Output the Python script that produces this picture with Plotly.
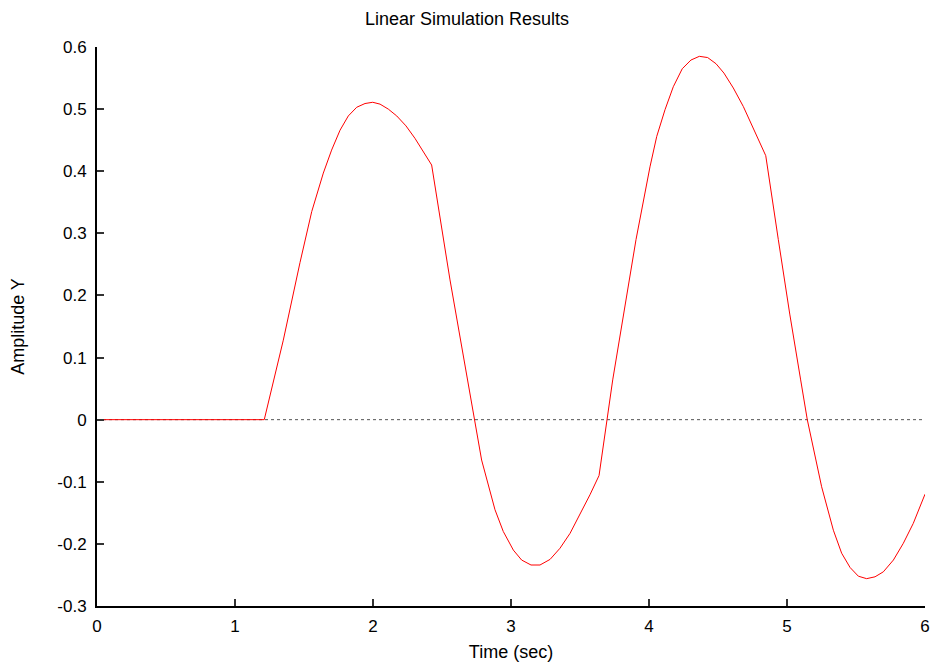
import plotly.graph_objects as go

# Data
time_sec = [0.0, 0.6, 1.212, 1.350, 1.471, 1.556, 1.640, 1.700, 1.761, 1.821, 1.882, 1.942, 1.998,
            2.051, 2.111, 2.172, 2.239, 2.304, 2.365, 2.425,
            2.558, 2.654, 2.734, 2.787, 2.884, 2.944, 3.017, 3.077, 3.145, 3.210, 3.283,
            3.355, 3.428, 3.500, 3.572, 3.638,
            3.698, 3.737, 3.906, 4.007, 4.056, 4.116, 4.176, 4.241, 4.304, 4.365, 4.425, 4.486,
            4.543, 4.611, 4.684, 4.756, 4.846, 4.937, 5.020, 5.099, 5.147, 5.251, 5.336, 5.396,
            5.457, 5.517, 5.577, 5.638, 5.698, 5.771, 5.843, 5.915, 6.0]
amplitude = [0.0, 0.0, 0.0, 0.128, 0.253, 0.335, 0.397, 0.434, 0.466, 0.489, 0.503, 0.509, 0.511,
             0.508, 0.500, 0.489, 0.473, 0.453, 0.432, 0.410,
             0.225, 0.101, 0.0, -0.065, -0.145, -0.180, -0.210, -0.226, -0.234, -0.234, -0.225,
             -0.207, -0.183, -0.153, -0.121, -0.090,
             0.0, 0.064, 0.290, 0.407, 0.456, 0.499, 0.536, 0.565, 0.579, 0.585, 0.583, 0.573,
             0.558, 0.534, 0.504, 0.469, 0.425, 0.290, 0.170, 0.064, 0.0, -0.108, -0.178, -0.215,
             -0.238, -0.252, -0.256, -0.253, -0.245, -0.226, -0.199, -0.167, -0.120]

zero_x = [0, 6]
zero_y = [0, 0]

x_ticks = [0, 1, 2, 3, 4, 5, 6]
x_tick_labels = ["0", "1", "2", "3", "4", "5", "6"]
y_ticks = [-0.3, -0.2, -0.1, 0, 0.1, 0.2, 0.3, 0.4, 0.5, 0.6]
y_tick_labels = ["-0.3", "-0.2", "-0.1", "0", "0.1", "0.2", "0.3", "0.4", "0.5", "0.6"]

FONT = "Liberation Sans, Arial, sans-serif"

fig = go.Figure()
fig.add_trace(go.Scatter(x=zero_x, y=zero_y, mode="lines",
                         line=dict(color="#555555", width=1, dash="dot"),
                         hoverinfo="skip", showlegend=False))
fig.add_trace(go.Scatter(x=time_sec, y=amplitude, mode="lines",
                         line=dict(color="#ff0000", width=1),
                         showlegend=False))

fig.update_layout(
    width=934, height=669,
    margin=dict(l=97, r=9, t=47, b=63, autoexpand=False),
    paper_bgcolor="white", plot_bgcolor="white",
    font=dict(family=FONT, size=17, color="black"),
    title=dict(text="Linear Simulation Results", x=0.5, xanchor="center",
               y=1 - 19 / 669, yanchor="middle",
               font=dict(family=FONT, size=18, color="black")),
)
fig.update_xaxes(
    range=[0, 6], tickvals=x_ticks, ticktext=x_tick_labels,
    showline=True, linecolor="black", linewidth=2,
    ticks="inside", ticklen=7, tickwidth=1.5, tickcolor="#333333",
    showgrid=False, zeroline=False, automargin=False,
    ticklabelstandoff=4,
    tickfont=dict(family=FONT, size=17, color="black"),
    title=dict(text="Time (sec)", font=dict(family=FONT, size=18, color="black"), standoff=10),
)
fig.update_yaxes(
    range=[-0.3, 0.6], tickvals=y_ticks, ticktext=y_tick_labels,
    showline=True, linecolor="black", linewidth=2,
    ticks="inside", ticklen=7, tickwidth=1.5, tickcolor="#333333",
    showgrid=False, zeroline=False, automargin=False,
    ticklabelstandoff=5,
    tickfont=dict(family=FONT, size=17, color="black"),
    title=dict(text="Amplitude Y", font=dict(family=FONT, size=18, color="black"), standoff=28),
)

fig.write_html("out.html")
